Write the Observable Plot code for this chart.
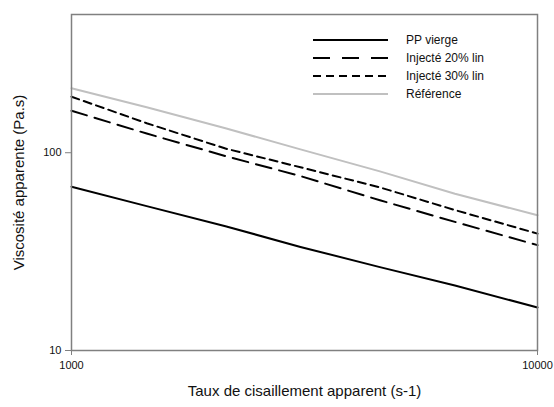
<!DOCTYPE html>
<html>
<head>
<meta charset="utf-8">
<script src="https://cdn.jsdelivr.net/npm/d3@7"></script>
<script src="https://cdn.jsdelivr.net/npm/@observablehq/plot@0.6"></script>
<style>
  html, body { margin: 0; padding: 0; background: #fff; }
  #wrap { position: relative; width: 554px; height: 407px; font-family: "Liberation Sans", Arial, sans-serif; }
  #legend { position: absolute; left: 313px; top: 31px; }
  .row { display: flex; align-items: center; height: 18px; }
  .row svg { width: 75px; height: 18px; display: block; }
  .row span { margin-left: 18px; font-size: 12px; color: #111; }
</style>
</head>
<body>
<div id="wrap"></div>
<script>
const shearRates = [1000, 1450, 2140, 3100, 4590, 6650, 10000];
const ppVierge   = [67.3, 53.7, 42.5, 33.4, 26.4, 21.3, 16.5];
const injecte20  = [163, 125, 96.2, 76.2, 57.5, 44.7, 34.1];
const injecte30  = [192, 141, 105, 84.4, 66.8, 51.3, 39.0];
const reference  = [212, 170, 133, 104, 80.5, 62, 48.3];
const seriesNames = ["PP vierge", "Injecté 20% lin", "Injecté 30% lin", "Référence"];
const xTicks = [1000, 10000];
const yTicks = [10, 100];

const styles = {
  "PP vierge":       {stroke: "#000", dash: null,  width: 2},
  "Injecté 20% lin": {stroke: "#000", dash: "16,8", width: 2},
  "Injecté 30% lin": {stroke: "#000", dash: "8,5",  width: 2},
  "Référence":       {stroke: "#c0c0c0", dash: null, width: 2}
};
const valuesBySeries = [ppVierge, injecte20, injecte30, reference];
const rows = seriesNames.flatMap((s, i) => shearRates.map((x, j) => ({series: s, x, y: valuesBySeries[i][j]})));

const drawOrder = ["Référence", "Injecté 20% lin", "Injecté 30% lin", "PP vierge"];
const lineMarks = drawOrder.map(s => Plot.line(rows.filter(d => d.series === s), {
  x: "x", y: "y", stroke: styles[s].stroke, strokeWidth: styles[s].width,
  strokeDasharray: styles[s].dash, strokeLinejoin: "round"
}));

const chart = Plot.plot({
  width: 554, height: 407,
  marginLeft: 71, marginRight: 17, marginTop: 14, marginBottom: 57,
  style: {fontFamily: "Liberation Sans, Arial, sans-serif", background: "#fff", color: "#111"},
  x: {type: "log", domain: [1000, 10000]},
  y: {type: "log", domain: [10, 500]},
  marks: [
    ...lineMarks,
    Plot.frame({stroke: "#808080", strokeWidth: 1.5}),
    Plot.axisX({ticks: xTicks, tickFormat: d => String(d), tickSize: 5, stroke: "#808080", fontSize: 11, label: null, tickPadding: 6}),
    Plot.axisY({ticks: yTicks, tickFormat: d => String(d), tickSize: 6, stroke: "#808080", fontSize: 11, label: null, tickPadding: 4}),
    Plot.text(["Viscosité apparente (Pa.s)"], {frameAnchor: "left", text: d => d, rotate: -90, textAnchor: "middle", lineAnchor: "middle", dx: -52, fontSize: 15, fill: "#111"}),
    Plot.text(["Taux de cisaillement apparent (s-1)"], {frameAnchor: "bottom", text: d => d, dy: 45, fontSize: 15, fill: "#111"})
  ]
});

const wrap = document.getElementById("wrap");
wrap.appendChild(chart);

const legend = document.createElement("div");
legend.id = "legend";
seriesNames.forEach(s => {
  const st = styles[s];
  const row = document.createElement("div");
  row.className = "row";
  row.innerHTML = `<svg><line x1="0" x2="75" y1="9" y2="9" stroke="${st.stroke}" stroke-width="${st.width}" ${st.dash ? `stroke-dasharray="${s === "Injecté 20% lin" ? "17,12" : "8,5"}"` : ""}/></svg><span>${s}</span>`;
  legend.appendChild(row);
});
wrap.appendChild(legend);
</script>
</body>
</html>
